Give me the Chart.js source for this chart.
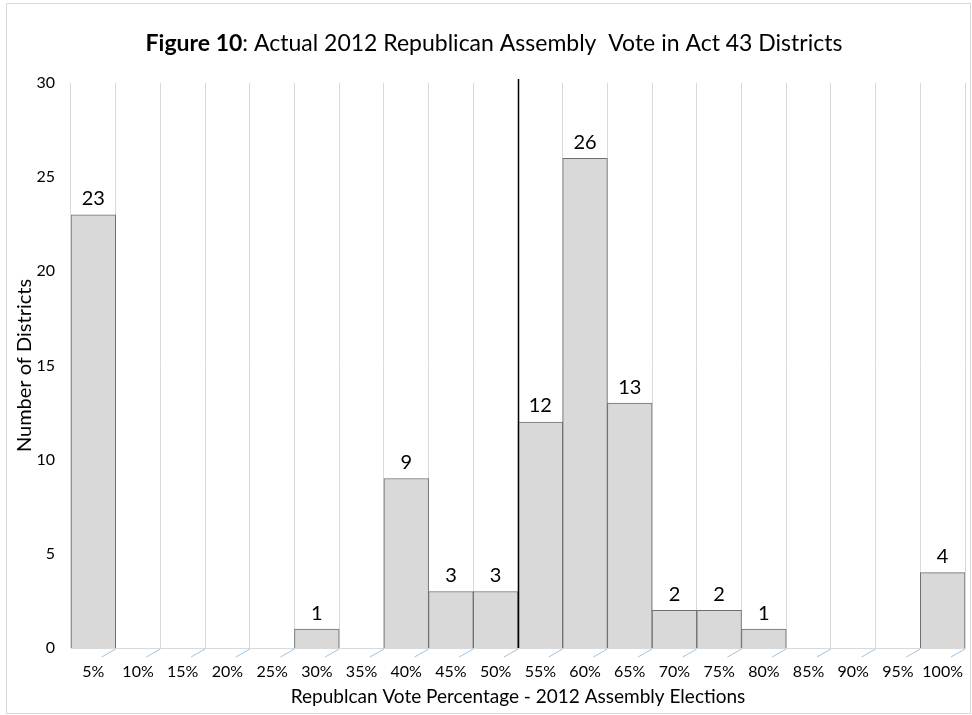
<!DOCTYPE html>
<html>
<head>
<meta charset="utf-8">
<script src="https://cdn.jsdelivr.net/npm/chart.js@4"></script>
<style>
  html, body { margin: 0; padding: 0; background: #fff; }
  #wrap { position: relative; width: 972px; height: 715px; }
  #frame { position: absolute; left: 6px; top: 3px; width: 963px; height: 709px; border: 1px solid #d9d9d9; pointer-events: none; }
</style>
</head>
<body>
<div id="wrap">
  <canvas id="chart" width="972" height="715"></canvas>
  <div id="frame"></div>
</div>
<script>
// --- Data ---
const categories = ['5%', '10%', '15%', '20%', '25%', '30%', '35%', '40%', '45%', '50%',
                    '55%', '60%', '65%', '70%', '75%', '80%', '85%', '90%', '95%', '100%'];
const districtCounts = [23, 0, 0, 0, 0, 1, 0, 9, 3, 3, 12, 26, 13, 2, 2, 1, 0, 0, 0, 4];
const yTicks = [0, 5, 10, 15, 20, 25, 30];
const titleBold = 'Figure 10';
const titleRest = ': Actual 2012 Republican Assembly  Vote in Act 43 Districts';
const majorityBoundary = 9.5; // between 50% and 55%

const FONT = 'Lato, "Open Sans", sans-serif';

// --- Plugins ---
const titlePlugin = {
  id: 'mixedTitle',
  afterDraw(chart) {
    const c = chart.ctx;
    c.save();
    c.fillStyle = '#000';
    c.textBaseline = 'middle';
    c.font = 'bold 23px ' + FONT;
    const wb = c.measureText(titleBold).width;
    c.font = '23px ' + FONT;
    const wr = c.measureText(titleRest).width;
    let x = 494 - (wb + wr) / 2;
    c.font = 'bold 23px ' + FONT;
    c.fillText(titleBold, x, 44);
    c.font = '23px ' + FONT;
    c.fillText(titleRest, x + wb, 44);
    c.restore();
  }
};

const extrasPlugin = {
  id: 'extras',
  afterDatasetsDraw(chart) {
    const c = chart.ctx;
    const xs = chart.scales.x;
    const ys = chart.scales.y;
    const area = chart.chartArea;
    c.save();

    // value labels
    c.fillStyle = '#000';
    c.font = '20px ' + FONT;
    c.textAlign = 'center';
    c.textBaseline = 'bottom';
    districtCounts.forEach((v, i) => {
      if (!v) return;
      c.fillText(String(v), xs.getPixelForValue(i), ys.getPixelForValue(v) - 6);
    });

    // majority line
    const half = (xs.getPixelForValue(Math.floor(majorityBoundary)) + xs.getPixelForValue(Math.ceil(majorityBoundary))) / 2;
    c.strokeStyle = '#000';
    c.lineWidth = 1.5;
    c.beginPath();
    c.moveTo(Math.round(half) + 0.5, area.top - 4);
    c.lineTo(Math.round(half) + 0.5, area.bottom);
    c.stroke();

    // small blue diagonal marks at category boundaries
    c.strokeStyle = '#9dc3e6';
    c.lineWidth = 1;
    const step = xs.getPixelForValue(1) - xs.getPixelForValue(0);
    for (let i = 0; i < categories.length; i++) {
      const bx = xs.getPixelForValue(i) + step / 2;
      c.beginPath();
      c.moveTo(bx, area.bottom + 1);
      c.lineTo(bx - 14, area.bottom + 9);
      c.stroke();
    }
    c.restore();
  }
};

// --- Chart ---
new Chart(document.getElementById('chart').getContext('2d'), {
  type: 'bar',
  data: {
    labels: categories,
    datasets: [{
      data: districtCounts,
      backgroundColor: '#d9d9d9',
      borderColor: '#6e6e6e',
      borderWidth: 1,
      barPercentage: 1,
      categoryPercentage: 1
    }]
  },
  options: {
    responsive: false,
    animation: false,
    layout: { padding: { top: 83, right: 7, left: 0, bottom: 0 } },
    plugins: {
      legend: { display: false },
      tooltip: { enabled: false },
      title: { display: false }
    },
    scales: {
      x: {
        offset: true,
        grid: { display: true, offset: true, color: '#d9d9d9', drawTicks: false },
        border: { display: true, color: '#d9d9d9' },
        ticks: { color: '#000', font: { family: FONT, size: 16 }, padding: 14, maxRotation: 0, autoSkip: false },
        title: { display: true, text: 'Republcan Vote Percentage - 2012 Assembly Elections', color: '#000', font: { family: FONT, size: 19 }, padding: { top: 0, bottom: 7 } },
        afterFit(scale) {
          scale.height = 67;
          scale.paddingLeft = 0;
          scale.paddingRight = 0;
        }
      },
      y: {
        min: 0,
        max: 30,
        afterBuildTicks(scale) { scale.ticks = yTicks.map(v => ({ value: v })); },
        grid: { display: false, drawTicks: false },
        border: { display: false },
        ticks: { color: '#000', font: { family: FONT, size: 16 }, padding: 16 },
        title: { display: true, text: 'Number of Districts', color: '#000', font: { family: FONT, size: 20 }, padding: { top: 13, bottom: 0 } },
        afterFit(scale) { scale.width = 71; }
      }
    }
  },
  plugins: [titlePlugin, extrasPlugin]
});
</script>
</body>
</html>
